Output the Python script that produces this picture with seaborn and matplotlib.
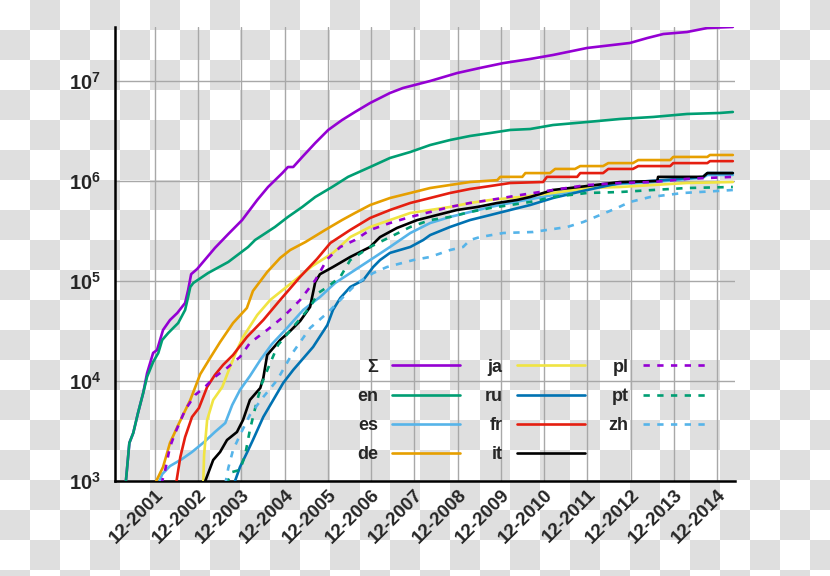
import numpy as np
import pandas as pd
import seaborn as sns
import matplotlib.pyplot as plt
import matplotlib.dates as mdates
from matplotlib.lines import Line2D
from matplotlib.ticker import FuncFormatter, LogLocator, NullLocator

# article counts per language edition (decimal year, articles)
sigma_year = [2001.22, 2001.32, 2001.41, 2001.52, 2001.64, 2001.73, 2001.87, 2001.96, 2002.10, 2002.26,
              2002.43, 2002.61, 2002.68, 2002.75, 2002.89, 2003.30, 2003.61, 2003.93, 2004.28, 2004.53,
              2004.86, 2004.99, 2005.11, 2005.32, 2005.62, 2005.92, 2006.24, 2006.54, 2006.89, 2007.35,
              2007.65, 2008.28, 2008.90, 2009.43, 2009.97, 2010.59, 2011.12, 2011.91, 2012.90, 2013.30,
              2013.67, 2014.22, 2014.69, 2015.28]
sigma_count = [800, 2.40e3, 3.02e3, 4.79e3, 7.59e3, 1.20e4, 1.91e4, 2.04e4, 3.24e4, 4.07e4,
               4.79e4, 6.03e4, 8.13e4, 1.17e5, 1.32e5, 2.14e5, 2.95e5, 4.07e5, 6.46e5, 8.71e5,
               1.20e6, 1.38e6, 1.38e6, 1.74e6, 2.40e6, 3.24e6, 4.07e6, 4.90e6, 6.03e6, 7.59e6,
               8.51e6, 1.00e7, 1.20e7, 1.35e7, 1.51e7, 1.66e7, 1.82e7, 2.14e7, 2.40e7, 2.69e7,
               2.95e7, 3.09e7, 3.39e7, 3.47e7]

en_year = [2001.22, 2001.32, 2001.41, 2001.52, 2001.64, 2001.73, 2001.87, 2001.99, 2002.08, 2002.22,
           2002.45, 2002.61, 2002.68, 2002.73, 2002.80, 2003.14, 2003.61, 2004.07, 2004.23, 2004.69,
           2004.99, 2005.32, 2005.62, 2006.01, 2006.38, 2006.89, 2007.35, 2007.82, 2008.28, 2008.74,
           2009.20, 2009.67, 2010.13, 2010.59, 2011.12, 2011.91, 2012.67, 2013.44, 2014.22, 2014.98,
           2015.28]
en_count = [800, 2.40e3, 3.02e3, 4.79e3, 7.59e3, 1.10e4, 1.55e4, 1.91e4, 2.57e4, 3.02e4,
            3.80e4, 5.13e4, 6.92e4, 8.71e4, 9.55e4, 1.20e5, 1.55e5, 2.19e5, 2.57e5, 3.47e5,
            4.37e5, 5.50e5, 6.92e5, 8.71e5, 1.10e6, 1.38e6, 1.70e6, 1.95e6, 2.29e6, 2.57e6,
            2.82e6, 3.02e6, 3.24e6, 3.31e6, 3.63e6, 3.89e6, 4.17e6, 4.37e6, 4.68e6, 4.79e6,
            4.90e6]

es_year = [2001.99, 2002.08, 2002.26, 2002.54, 2002.77, 2003.05, 2003.30, 2003.54, 2003.70, 2003.88,
           2004.11, 2004.35, 2004.62, 2004.97, 2005.34, 2005.73, 2006.08, 2006.43, 2006.89, 2007.35,
           2007.82, 2008.28, 2008.74, 2009.20, 2009.67, 2010.36, 2011.12, 2011.91, 2012.67, 2013.44,
           2014.59, 2014.69, 2015.28]
es_count = [930, 1.17e3, 1.41e3, 1.66e3, 1.95e3, 2.45e3, 3.09e3, 3.80e3, 5.75e3, 8.13e3,
            1.12e4, 1.62e4, 2.34e4, 3.39e4, 5.13e4, 6.92e4, 9.55e4, 1.20e5, 1.62e5, 2.19e5,
            3.02e5, 3.80e5, 4.37e5, 4.90e5, 5.50e5, 6.31e5, 7.24e5, 8.51e5, 9.33e5, 9.77e5,
            1.08e6, 1.15e6, 1.15e6]

de_year = [2001.92, 2002.10, 2002.26, 2002.45, 2002.73, 2002.96, 2003.19, 2003.42, 2003.72, 2004.04,
           2004.18, 2004.51, 2004.81, 2005.04, 2005.39, 2005.85, 2006.24, 2006.54, 2006.89, 2007.35,
           2007.82, 2008.28, 2008.74, 2009.20, 2009.83, 2009.90, 2010.41, 2010.48, 2011.05, 2011.17,
           2011.63, 2011.75, 2012.28, 2012.40, 2012.97, 2013.09, 2013.83, 2013.90, 2014.69, 2014.75,
           2015.28]
de_count = [955, 1.38e3, 2.40e3, 3.63e3, 6.46e3, 1.17e4, 1.70e4, 2.45e4, 3.80e4, 5.37e4,
            7.94e4, 1.23e5, 1.70e5, 2.04e5, 2.45e5, 3.24e5, 4.07e5, 4.79e5, 5.75e5, 6.76e5,
            7.59e5, 8.51e5, 9.12e5, 9.77e5, 1.02e6, 1.10e6, 1.10e6, 1.20e6, 1.20e6, 1.32e6,
            1.32e6, 1.41e6, 1.41e6, 1.51e6, 1.51e6, 1.62e6, 1.62e6, 1.74e6, 1.74e6, 1.82e6,
            1.82e6]

ja_year = [2003.03, 2003.05, 2003.12, 2003.26, 2003.47, 2003.65, 2003.81, 2003.95, 2004.28, 2004.58,
           2005.04, 2005.55, 2006.03, 2006.43, 2006.89, 2007.35, 2007.82, 2008.28, 2008.74, 2009.20,
           2009.67, 2010.36, 2011.12, 2011.91, 2012.67, 2013.44, 2014.22, 2015.28]
ja_count = [930, 1.82e3, 4.07e3, 6.46e3, 8.71e3, 1.38e4, 2.04e4, 2.75e4, 4.57e4, 6.46e4,
            9.33e4, 1.41e5, 1.91e5, 2.75e5, 3.47e5, 4.07e5, 4.79e5, 5.13e5, 5.50e5, 6.03e5,
            6.46e5, 6.92e5, 7.59e5, 8.51e5, 8.71e5, 9.12e5, 9.55e5, 9.77e5]

ru_year = [2003.74, 2003.88, 2004.04, 2004.18, 2004.42, 2004.65, 2004.88, 2005.11, 2005.27, 2005.57,
           2005.90, 2006.03, 2006.20, 2006.43, 2006.73, 2006.96, 2007.12, 2007.35, 2007.82, 2008.12,
           2008.28, 2008.74, 2009.20, 2009.67, 2010.13, 2010.59, 2011.12, 2011.91, 2012.67, 2013.67,
           2014.59, 2014.69, 2015.28]
ru_count = [930, 1.38e3, 1.91e3, 2.57e3, 4.37e3, 6.46e3, 9.55e3, 1.29e4, 1.55e4, 2.19e4,
            3.63e4, 5.13e4, 6.76e4, 8.71e4, 1.02e5, 1.38e5, 1.62e5, 1.91e5, 2.19e5, 2.57e5,
            2.88e5, 3.47e5, 4.07e5, 4.57e5, 5.13e5, 5.75e5, 6.76e5, 8.13e5, 9.55e5, 1.02e6,
            1.10e6, 1.20e6, 1.20e6]

fr_year = [2002.40, 2002.50, 2002.61, 2002.77, 2002.93, 2003.12, 2003.30, 2003.49, 2003.72, 2004.04,
           2004.42, 2004.81, 2005.27, 2005.66, 2005.97, 2006.43, 2006.89, 2007.35, 2007.82, 2008.28,
           2008.74, 2009.20, 2009.67, 2010.13, 2010.89, 2010.98, 2011.68, 2011.75, 2012.28, 2012.40,
           2012.97, 2013.09, 2013.83, 2013.90, 2014.69, 2014.75, 2015.28]
fr_count = [930, 1.74e3, 2.75e3, 4.37e3, 5.37e3, 8.71e3, 1.15e4, 1.45e4, 1.82e4, 2.75e4,
            4.07e4, 6.46e4, 1.10e5, 1.66e5, 2.40e5, 3.24e5, 4.27e5, 5.13e5, 6.03e5, 6.76e5,
            7.59e5, 8.32e5, 8.91e5, 9.55e5, 9.77e5, 1.10e6, 1.10e6, 1.20e6, 1.20e6, 1.32e6,
            1.32e6, 1.41e6, 1.41e6, 1.51e6, 1.51e6, 1.58e6, 1.58e6]

it_year = [2003.05, 2003.12, 2003.26, 2003.42, 2003.58, 2003.81, 2003.95, 2004.11, 2004.35, 2004.42,
           2004.51, 2004.65, 2004.81, 2005.04, 2005.27, 2005.50, 2005.62, 2005.73, 2006.03, 2006.43,
           2006.89, 2007.12, 2007.51, 2007.98, 2008.44, 2008.90, 2009.37, 2009.83, 2010.29, 2010.59,
           2011.12, 2011.91, 2012.67, 2013.53, 2013.55, 2014.59, 2014.69, 2015.28]
it_count = [930, 1.12e3, 1.62e3, 1.95e3, 2.57e3, 3.09e3, 4.07e3, 6.46e3, 8.51e3, 1.07e4,
            1.82e4, 2.14e4, 2.57e4, 3.16e4, 3.98e4, 5.50e4, 9.77e4, 1.17e5, 1.38e5, 1.74e5,
            2.19e5, 2.75e5, 3.39e5, 4.07e5, 4.57e5, 5.13e5, 5.50e5, 6.03e5, 6.46e5, 6.92e5,
            8.13e5, 8.91e5, 9.77e5, 1.00e6, 1.10e6, 1.10e6, 1.20e6, 1.20e6]

pl_year = [2002.06, 2002.15, 2002.26, 2002.38, 2002.61, 2002.84, 2003.07, 2003.30, 2003.58, 2003.88,
           2004.11, 2004.51, 2004.88, 2005.27, 2005.62, 2005.90, 2006.20, 2006.54, 2006.89, 2007.35,
           2007.82, 2008.28, 2008.74, 2009.20, 2009.67, 2010.36, 2011.12, 2011.91, 2012.67, 2013.44,
           2014.22, 2015.28]
pl_count = [930, 1.29e3, 2.19e3, 3.02e3, 5.13e3, 7.24e3, 8.71e3, 1.10e4, 1.35e4, 1.74e4,
            2.40e4, 3.24e4, 4.37e4, 6.46e4, 1.02e5, 1.66e5, 2.19e5, 2.57e5, 3.24e5, 3.80e5,
            4.37e5, 4.90e5, 5.50e5, 6.03e5, 6.46e5, 7.24e5, 8.13e5, 9.12e5, 9.55e5, 9.77e5,
            1.05e6, 1.10e6]

pt_year = [2003.56, 2003.70, 2003.88, 2004.00, 2004.11, 2004.25, 2004.39, 2004.58, 2004.76, 2005.11,
           2005.50, 2005.69, 2005.90, 2006.20, 2006.43, 2006.89, 2007.35, 2007.82, 2008.28, 2008.74,
           2009.20, 2009.67, 2010.13, 2010.59, 2011.12, 2011.91, 2012.67, 2013.44, 2014.22, 2015.28]
pt_count = [930, 1.23e3, 1.29e3, 1.82e3, 3.24e3, 5.75e3, 9.55e3, 1.51e4, 2.29e4, 3.47e4,
            5.50e4, 7.59e4, 8.71e4, 1.10e5, 1.62e5, 2.19e5, 2.75e5, 3.47e5, 4.07e5, 4.37e5,
            4.90e5, 5.37e5, 5.75e5, 6.17e5, 6.92e5, 7.59e5, 7.76e5, 8.13e5, 8.51e5, 8.71e5]

zh_year = [2003.54, 2003.61, 2003.72, 2003.88, 2004.11, 2004.42, 2004.74, 2005.11, 2005.50, 2005.90,
           2006.20, 2006.59, 2006.96, 2007.28, 2007.89, 2008.28, 2008.74, 2009.04, 2009.20, 2009.43,
           2009.97, 2010.66, 2011.45, 2011.82, 2012.21, 2012.60, 2012.90, 2013.37, 2014.13, 2014.91,
           2015.28]
zh_count = [930, 1.35e3, 2.04e3, 2.88e3, 4.57e3, 6.92e3, 1.02e4, 1.95e4, 3.39e4, 4.79e4,
            6.46e4, 9.55e4, 1.20e5, 1.38e5, 1.62e5, 1.74e5, 2.04e5, 2.19e5, 2.57e5, 2.75e5,
            3.02e5, 3.09e5, 3.47e5, 3.89e5, 4.57e5, 5.37e5, 6.17e5, 6.92e5, 7.59e5, 7.94e5,
            8.13e5]

labels = ['Σ', 'en', 'es', 'de', 'ja', 'ru', 'fr', 'it', 'pl', 'pt', 'zh']
years = [sigma_year, en_year, es_year, de_year, ja_year, ru_year, fr_year, it_year, pl_year, pt_year, zh_year]
counts = [sigma_count, en_count, es_count, de_count, ja_count, ru_count, fr_count, it_count, pl_count,
          pt_count, zh_count]
colors = ['#9400D3', '#009E73', '#56B4E9', '#E69F00', '#F0E442', '#0072B2', '#E51E10', '#000000',
          '#9400D3', '#009E73', '#56B4E9']
dashed = [False] * 8 + [True] * 3


def to_date(y):
    y = np.asarray(y, dtype=float)
    whole = np.floor(y).astype(int)
    start = pd.to_datetime(whole.astype(str), format='%Y')
    return start + pd.to_timedelta((y - whole) * 365.25, unit='D')


sns.set_style('white')
plt.rcParams['font.family'] = ['Liberation Sans', 'DejaVu Sans']
plt.rcParams['mathtext.fontset'] = 'custom'
plt.rcParams['mathtext.rm'] = 'Liberation Sans:bold'
plt.rcParams['mathtext.bf'] = 'Liberation Sans:bold'
plt.rcParams['mathtext.it'] = 'Liberation Sans:bold'

fig = plt.figure(figsize=(8.3, 5.76), dpi=100)
fig.patch.set_alpha(0)

# transparency checkerboard behind the chart
yy, xx = np.mgrid[0:576, 0:830]
check = ((yy // 30 + xx // 30) % 2)[..., None]
board = np.where(check == 1, 0.878, 1.0) * np.ones(3)
fig.figimage(board, xo=0, yo=0, origin='upper', zorder=-1)

ax = fig.add_axes([115 / 830, 95 / 576, 620 / 830, 454 / 576])
ax.patch.set_alpha(0)

dash = (0, (2.4, 2.8))
for lab, yr, ct, col, dsh in zip(labels, years, counts, colors, dashed):
    sns.lineplot(x=to_date(yr), y=ct, color=col, lw=1.9, ax=ax, estimator=None,
                 linestyle=dash if dsh else '-', legend=False, zorder=3)

ax.set_yscale('log')
ax.set_ylim(1e3, 10 ** 7.54)
ax.set_xlim(to_date([2000.99])[0], to_date([2015.33])[0])

ax.xaxis.set_major_locator(mdates.MonthLocator(bymonth=12, bymonthday=1))
ax.xaxis.set_minor_locator(mdates.MonthLocator(bymonth=[3, 6, 9], bymonthday=1))
ax.xaxis.set_major_formatter(mdates.DateFormatter('%m-%Y'))
ax.yaxis.set_major_locator(LogLocator(base=10, numticks=10))
ax.yaxis.set_minor_locator(NullLocator())
ax.yaxis.set_major_formatter(FuncFormatter(lambda v, p: r'$\mathbf{10^{%d}}$' % round(np.log10(v))))

ax.tick_params(axis='x', which='major', direction='in', length=10, width=1.8, labelsize=13.5, pad=4)
ax.tick_params(axis='x', which='minor', direction='in', length=5, width=1.8)
ax.tick_params(axis='y', which='major', direction='in', length=11, width=1.8, labelsize=14.5, pad=10)
plt.setp(ax.get_xticklabels(), rotation=45, ha='right', rotation_mode='anchor', fontweight='bold')

ax.grid(True, which='major', color='#a8a8a8', lw=1)
ax.set_xlabel('')
ax.set_ylabel('')
for s in ['top', 'right']:
    ax.spines[s].set_visible(False)
for s in ['left', 'bottom']:
    ax.spines[s].set_linewidth(1.8)
    ax.spines[s].set_color('black')

handles = [Line2D([], [], color=c, lw=1.9, linestyle=dash if d else '-') for c, d in zip(colors, dashed)]
ax.legend(handles, labels, ncols=3, markerfirst=False, frameon=False, loc='center',
          bbox_to_anchor=(534 / 830, 1 - 411 / 576), bbox_transform=fig.transFigure,
          prop={'weight': 'bold', 'size': 13}, handlelength=3.77, handletextpad=0.78,
          columnspacing=1.33, labelspacing=0.68, borderpad=0)

fig.savefig('out.png', dpi=100)
